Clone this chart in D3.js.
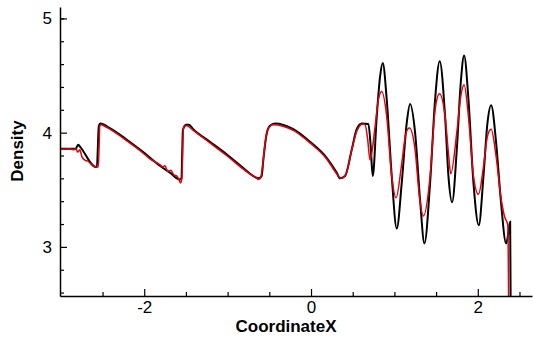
<!DOCTYPE html>
<html>
<head>
<meta charset="utf-8">
<script src="https://cdn.jsdelivr.net/npm/d3@7"></script>
<style>
  body { margin: 0; background: #fff; }
  svg { display: block; font-family: "Liberation Sans", Arial, sans-serif; }
</style>
</head>
<body>
<div id="chart"></div>
<script>
// exact / reference solution (black)
const exactX = [-3.01, -2.82, -2.793, -2.773, -2.58, -2.568, -2.544, -2.526, -2.412, -2.212, -2.012, -1.812, -1.692, -1.572,
  -1.554, -1.536, -1.5, -1.464, -1.412, -1.212, -1.012, -0.812, -0.692, -0.632, -0.592, -0.572, -0.532, -0.492, -0.432,
  -0.212, -0.012, 0.188, 0.308, 0.348, 0.408, 0.488, 0.548, 0.608, 0.688, 0.714, 0.74, 0.788, 0.828, 0.86, 0.908, 0.968,
  1.028, 1.088, 1.148, 1.188, 1.248, 1.308, 1.36, 1.428, 1.488, 1.543, 1.608, 1.648, 1.692, 1.748, 1.796, 1.836, 1.888,
  1.948, 2.012, 2.068, 2.116, 2.16, 2.22, 2.276, 2.34, 2.368, 2.388, 2.394];
const exactY = [3.86, 3.86, 3.895, 3.88, 3.70, 3.70, 4.06, 4.08, 4.04, 3.94, 3.83, 3.71, 3.65, 3.59,
  3.60, 4.02, 4.07, 4.07, 4.03, 3.92, 3.81, 3.69, 3.62, 3.60, 3.62, 3.76, 3.99, 4.06, 4.08,
  4.03, 3.92, 3.78, 3.65, 3.60, 3.62, 3.85, 4.03, 4.08, 4.075, 3.90, 3.62, 4.14, 4.49, 4.61, 4.29, 3.62,
  3.16, 3.56, 4.085, 4.25, 4.00, 3.41, 3.03, 3.56, 4.29, 4.625, 4.14, 3.62, 3.39, 3.85, 4.44, 4.675, 4.29,
  3.56, 3.19, 3.62, 4.085, 4.24, 3.91, 3.41, 3.03, 3.13, 3.22, 2.50];

// numerical solution (red)
const numX = [-3.01, -2.892, -2.844, -2.82, -2.796, -2.772, -2.748, -2.712, -2.676, -2.628, -2.58, -2.55, -2.532, -2.514,
  -2.484, -2.412, -2.212, -2.012, -1.932, -1.812, -1.776, -1.752, -1.716, -1.68, -1.644, -1.608, -1.578, -1.566, -1.548,
  -1.53, -1.488, -1.412, -1.212, -1.012, -0.812, -0.692, -0.66, -0.632, -0.606, -0.582, -0.552, -0.516, -0.456, -0.212,
  -0.012, 0.188, 0.308, 0.36, 0.42, 0.492, 0.552, 0.6, 0.618, 0.648, 0.678, 0.708, 0.768, 0.808, 0.848, 0.908, 0.968,
  1.02, 1.088, 1.14, 1.18, 1.248, 1.3, 1.348, 1.428, 1.488, 1.54, 1.608, 1.648, 1.676, 1.748, 1.796, 1.836, 1.888,
  1.948, 2.008, 2.068, 2.116, 2.16, 2.22, 2.276, 2.328, 2.348, 2.36, 2.37];
const numY = [3.855, 3.86, 3.85, 3.86, 3.83, 3.85, 3.79, 3.76, 3.75, 3.72, 3.70, 3.70, 4.06, 4.07,
  4.06, 4.03, 3.93, 3.82, 3.77, 3.72, 3.70, 3.71, 3.66, 3.67, 3.63, 3.62, 3.58, 3.56, 3.60,
  4.05, 4.06, 4.02, 3.91, 3.80, 3.68, 3.62, 3.61, 3.59, 3.60, 3.70, 3.90, 4.03, 4.07, 4.02,
  3.91, 3.77, 3.64, 3.60, 3.64, 3.86, 4.02, 4.07, 4.075, 4.07, 3.95, 3.76, 4.05, 4.29, 4.36, 4.14, 3.62,
  3.43, 3.73, 4.00, 4.04, 3.85, 3.44, 3.27, 3.62, 4.20, 4.34, 4.14, 3.82, 3.64, 4.00, 4.32, 4.42, 4.14,
  3.62, 3.46, 3.70, 3.97, 4.03, 3.79, 3.44, 3.25, 3.22, 3.19, 2.50];

const xMajor = [-2, 0, 2];
const xMinor = [-2.5, -1.5, -1, -0.5, 0.5, 1, 1.5, 2.5];
const yMajor = [3, 4, 5];
const yMinor = [2.6, 2.8, 3.2, 3.4, 3.6, 3.8, 4.2, 4.4, 4.6, 4.8, 5.0];

const W = 533, H = 340;
const mLeft = 60, mRight = 532, mTop = 7, mBottom = 296;

const svg = d3.select('#chart').append('svg').attr('width', W).attr('height', H);

const x = d3.scaleLinear().domain([-3.01, 2.65]).range([mLeft, mRight]);
const y = d3.scaleLinear().domain([2.57, 5.10]).range([mBottom, mTop]);

svg.append('clipPath').attr('id', 'clip')
  .append('rect').attr('x', mLeft).attr('y', mTop).attr('width', mRight - mLeft).attr('height', mBottom - mTop);

const line = d3.line().x(d => x(d[0])).y(d => y(d[1])).curve(d3.curveMonotoneX);
const plot = svg.append('g').attr('clip-path', 'url(#clip)');

plot.append('path').datum(d3.zip(exactX, exactY))
  .attr('fill', 'none').attr('stroke', '#000').attr('stroke-width', 2).attr('d', line);
plot.append('path').datum(d3.zip(numX, numY))
  .attr('fill', 'none').attr('stroke', '#e2000b').attr('stroke-width', 1.5).attr('d', line);

// axes, ticks pointing inward
const fmt = d => String(d);
svg.append('g').attr('transform', `translate(0,${mBottom})`)
  .call(d3.axisBottom(x).tickValues(xMajor).tickSizeInner(-7).tickSizeOuter(0).tickPadding(5).tickFormat(fmt));
svg.append('g').attr('transform', `translate(0,${mBottom})`)
  .call(d3.axisBottom(x).tickValues(xMinor).tickSizeInner(-4).tickSizeOuter(0).tickFormat(''))
  .select('.domain').remove();

svg.append('g').attr('transform', `translate(${mLeft},0)`)
  .call(d3.axisLeft(y).tickValues(yMajor).tickSizeInner(-7).tickSizeOuter(0).tickPadding(8).tickFormat(fmt));
svg.append('g').attr('transform', `translate(${mLeft},0)`)
  .call(d3.axisLeft(y).tickValues(yMinor).tickSizeInner(-4).tickSizeOuter(0).tickFormat(''))
  .select('.domain').remove();

svg.selectAll('.domain').attr('stroke', '#000').attr('stroke-width', 1.5);
svg.selectAll('.tick line').attr('stroke', '#000').attr('stroke-width', 1.2);
svg.selectAll('.tick text').attr('font-size', 17).attr('font-family', '"Liberation Sans", Arial, sans-serif').attr('fill', '#000');

svg.append('text').attr('x', (mLeft + mRight) / 2 - 10).attr('y', 332)
  .attr('text-anchor', 'middle').attr('font-size', 17).attr('font-weight', 'bold').text('CoordinateX');
svg.append('text').attr('transform', 'translate(23,151) rotate(-90)')
  .attr('text-anchor', 'middle').attr('font-size', 17).attr('font-weight', 'bold').text('Density');
</script>
</body>
</html>
